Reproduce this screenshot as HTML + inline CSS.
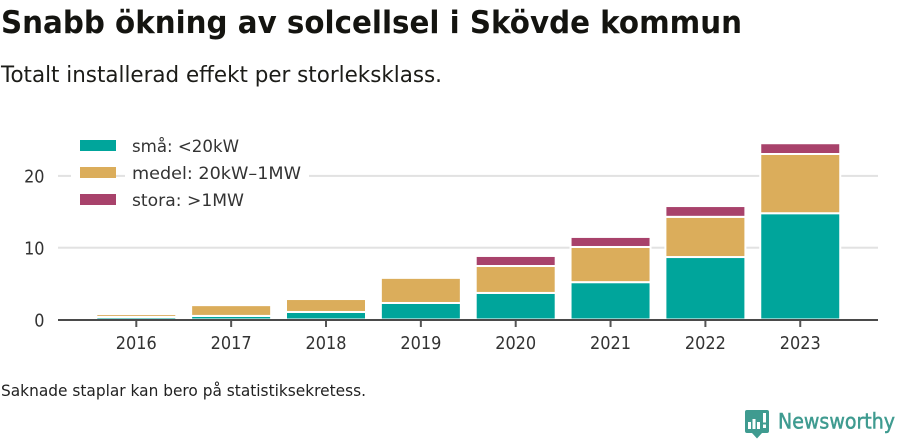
<!DOCTYPE html>
<html lang="sv">
<head>
<meta charset="utf-8">
<title>Snabb ökning av solcellsel i Skövde kommun</title>
<style>
html,body{margin:0;padding:0;background:#fff;}
svg{display:block;}
text{font-family:"DejaVu Sans","Liberation Sans",sans-serif;}
</style>
</head>
<body>
<svg id="chart" width="900" height="439" viewBox="0 0 900 439" xmlns="http://www.w3.org/2000/svg">
  <rect width="900" height="439" fill="#fff"/>
  <text x="1" y="33" font-size="31.5" font-weight="700" fill="#141410" textLength="741" lengthAdjust="spacingAndGlyphs">Snabb ökning av solcellsel i Skövde kommun</text>
  <text x="1" y="82" font-size="22" fill="#1c1c18" textLength="441" lengthAdjust="spacingAndGlyphs">Totalt installerad effekt per storleksklass.</text>
  <g id="grid"></g>
  <g id="bars"></g>
  <g id="axis"></g>
  <g>
    <rect x="71" y="136" width="9" height="72" fill="#fff"/>
    <rect x="125" y="136" width="184" height="72" fill="#fff"/>
    <rect x="80" y="140" width="36" height="11" fill="#00a59b"/>
    <text x="132" y="152" font-size="17" fill="#333" textLength="107" lengthAdjust="spacingAndGlyphs">små: &lt;20kW</text>
    <rect x="80" y="167" width="36" height="11" fill="#dbad5b"/>
    <text x="132" y="179" font-size="17" fill="#333" textLength="169" lengthAdjust="spacingAndGlyphs">medel: 20kW–1MW</text>
    <rect x="80" y="194" width="36" height="11" fill="#a8426b"/>
    <text x="132" y="206" font-size="17" fill="#333" textLength="112" lengthAdjust="spacingAndGlyphs">stora: &gt;1MW</text>
  </g>
  <text x="1" y="396" font-size="16" fill="#222" textLength="365" lengthAdjust="spacingAndGlyphs">Saknade staplar kan bero på statistiksekretess.</text>
  <g>
    <path d="M747 410h20a2 2 0 0 1 2 2v19a2 2 0 0 1-2 2h-5l-5 5.500-5-5.500h-5a2 2 0 0 1-2-2v-19a2 2 0 0 1 2-2z" fill="#3f9b90"/>
    <rect x="748" y="422" width="3" height="7" fill="#fff"/>
    <rect x="752.500" y="419" width="3" height="10" fill="#fff"/>
    <rect x="757" y="422" width="3" height="7" fill="#fff"/>
    <rect x="763" y="413" width="3" height="9.500" fill="#fff"/>
    <rect x="763" y="424.500" width="3" height="3.500" fill="#fff"/>
    <text x="778" y="428.500" font-size="21" font-weight="400" stroke="#3f9b90" stroke-width="0.5" fill="#3f9b90" textLength="117" lengthAdjust="spacingAndGlyphs">Newsworthy</text>
  </g>
</svg>
<script>
const categories = ["2016","2017","2018","2019","2020","2021","2022","2023"];
const smallValues = [0.35,0.5,1.05,2.3,3.7,5.2,8.7,14.8];
const mediumValues = [0.4,1.5,1.8,3.5,3.75,4.9,5.6,8.25];
const largeValues = [0,0,0,0,1.4,1.4,1.5,1.5];
const yTicks = [0,10,20];

const NS = "http://www.w3.org/2000/svg";
const yZero = 319.5, yPerUnit = 7.18;
const xFirst = 136.3, xStep = 94.85, barWidth = 80;
function yScale(v){ return yZero - v * yPerUnit; }
function xScale(i){ return xFirst + i * xStep; }
function make(tag, attrs, parent){
  const el = document.createElementNS(NS, tag);
  for (const k in attrs) el.setAttribute(k, attrs[k]);
  parent.appendChild(el);
  return el;
}

const grid = document.getElementById('grid');
const bars = document.getElementById('bars');
const axis = document.getElementById('axis');

yTicks.forEach(function(t){
  if (t !== 0) {
    const line = make('rect', {x:58, y:yScale(t)-1, width:820, height:2, fill:'#e2e2e2'}, grid);
    
    
  }
  const label = make('text', {x:44.5, y:yScale(t)+6.8, 'font-size':18, 'text-anchor':'end', fill:'#333', textLength:String(t).length * 10.2, lengthAdjust:'spacingAndGlyphs'}, axis);
  
  
  label.textContent = t;
});

const seriesList = [
  {key:'small', values:smallValues, color:'#00a59b'},
  {key:'medium', values:mediumValues, color:'#dbad5b'},
  {key:'large', values:largeValues, color:'#a8426b'}
];
categories.forEach(function(cat, i){
  let base = 0;
  seriesList.forEach(function(s){
    const v = s.values[i];
    if (v > 0) {
      const top = yScale(base + v);
      const rect = make('rect', {x:xScale(i)-barWidth/2, y:top, width:barWidth, height:yScale(base)-top, fill:s.color, stroke:'#fff', 'stroke-width':2}, bars);
      
      
    }
    base += v;
  });
  const tick = make('rect', {x:xScale(i)-1, y:320, width:2, height:7, fill:'#555'}, axis);
  
  
  const label = make('text', {x:xScale(i), y:349, 'font-size':18, 'text-anchor':'middle', fill:'#333', textLength:41, lengthAdjust:'spacingAndGlyphs'}, axis);
  
  
  label.textContent = cat;
});

const baseline = make('rect', {x:58, y:319, width:820, height:2, fill:'#4a4a4a'}, axis);


</script>
</body>
</html>
